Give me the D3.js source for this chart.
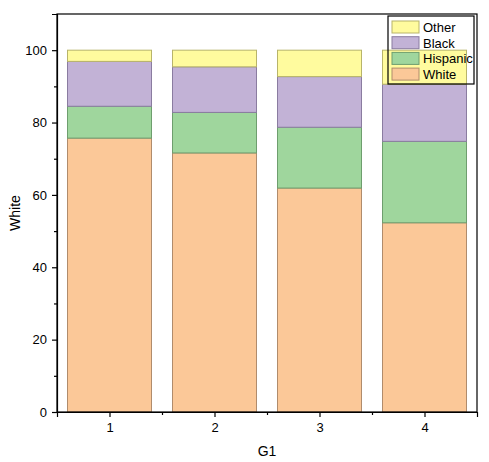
<!DOCTYPE html>
<html>
<head>
<meta charset="utf-8">
<script src="https://cdn.jsdelivr.net/npm/d3@7"></script>
<style>
  body { margin: 0; background: #fff; }
  svg text { font-family: "Liberation Sans", Arial, sans-serif; }
</style>
</head>
<body>
<svg></svg>
<script>
// data (stacked percent by group)
let groups = [1, 2, 3, 4];
let white = [75.7, 71.6, 61.9, 52.3];
let hispanic = [8.8, 11.2, 16.8, 22.5];
let black = [12.4, 12.6, 14.0, 15.8];
let other = [3.1, 4.6, 7.3, 9.4];
let seriesNames = ["White", "Hispanic", "Black", "Other"];
let yTicks = [0, 20, 40, 60, 80, 100];

let width = 489,
    height = 462;

let margin = { top: 14, bottom: 50, left: 57, right: 12 };

let svg = d3.select("svg")
            .attr("width", width)
            .attr("height", height);

let fills = { White: "#fbc898", Hispanic: "#9fd69d", Black: "#c2b2d6", Other: "#fffb9e" };
let strokes = { White: "#b08c6c", Hispanic: "#6e9e6e", Black: "#8a7ca0", Other: "#b8b46a" };

// -----------------------------
// SCALES
// -----------------------------
let xScale = d3.scaleLinear()
              .domain([0.5, 4.5])
              .range([margin.left, width - margin.right]);

let yScale = d3.scaleLinear()
              .domain([0, 110])
              .range([height - margin.bottom, margin.top]);

let rows = groups.map((g, i) => ({
  g: g, White: white[i], Hispanic: hispanic[i], Black: black[i], Other: other[i]
}));

let stacked = d3.stack().keys(seriesNames)(rows);

// -----------------------------
// BARS
// -----------------------------
let barW = xScale(1.4) - xScale(0.6);

stacked.forEach(layer => {
  svg.append("g")
     .selectAll("rect")
     .data(layer)
     .enter()
     .append("rect")
     .attr("x", d => xScale(d.data.g) - barW / 2)
     .attr("y", d => yScale(d[1]))
     .attr("width", barW)
     .attr("height", d => yScale(d[0]) - yScale(d[1]))
     .attr("fill", fills[layer.key])
     .attr("stroke", strokes[layer.key])
     .attr("stroke-width", 1);
});

// -----------------------------
// AXES
// -----------------------------
let x0 = height - margin.bottom;

// frame
svg.append("rect")
   .attr("x", margin.left)
   .attr("y", margin.top)
   .attr("width", width - margin.left - margin.right)
   .attr("height", x0 - margin.top)
   .attr("fill", "none")
   .attr("stroke", "#000")
   .attr("stroke-width", 1.2);

svg.append("g")
   .attr("transform", `translate(0, ${x0})`)
   .call(d3.axisBottom(xScale).tickValues(groups).tickFormat(d3.format("d")).tickSize(5).tickPadding(6));

svg.append("g")
   .attr("transform", `translate(0, ${x0})`)
   .call(d3.axisBottom(xScale).tickValues([1.5, 2.5, 3.5]).tickFormat("").tickSize(3))
   .select(".domain").remove();

svg.append("g")
   .attr("transform", `translate(${margin.left}, 0)`)
   .call(d3.axisLeft(yScale).tickValues(yTicks).tickSize(5).tickPadding(5));

svg.append("g")
   .attr("transform", `translate(${margin.left}, 0)`)
   .call(d3.axisLeft(yScale).tickValues([10, 30, 50, 70, 90]).tickFormat("").tickSize(3))
   .select(".domain").remove();

svg.selectAll(".domain").attr("stroke-width", 1.2);
svg.selectAll(".tick line").attr("stroke-width", 1.2);
svg.selectAll(".tick text").attr("font-size", 13).attr("fill", "#000")
   .style("font-family", "'Liberation Sans', Arial, sans-serif");

// -----------------------------
// LABELS
// -----------------------------
svg.append("text")
   .attr("x", (margin.left + width - margin.right) / 2)
   .attr("y", height - 6)
   .text("G1")
   .attr("font-size", 14)
   .style("text-anchor", "middle");

svg.append("text")
   .attr("x", 0 - (margin.top + x0) / 2)
   .attr("y", 20)
   .text("White")
   .attr("font-size", 14)
   .style("text-anchor", "middle")
   .attr("transform", "rotate(-90)");

// -----------------------------
// LEGEND
// -----------------------------
let legend = svg.append("g").attr("transform", "translate(388, 16)");

legend.append("rect")
      .attr("width", 86)
      .attr("height", 68)
      .attr("fill", "none")
      .attr("stroke", "#000")
      .attr("stroke-width", 1.2);

seriesNames.slice().reverse().forEach((name, i) => {
  let row = legend.append("g").attr("transform", `translate(4, ${5 + i * 15.7})`);
  row.append("rect")
     .attr("width", 27)
     .attr("height", 12)
     .attr("fill", fills[name])
     .attr("stroke", strokes[name]);
  row.append("text")
     .attr("x", 31)
     .attr("y", 11)
     .attr("font-size", 13)
     .text(name);
});
</script>
</body>
</html>
